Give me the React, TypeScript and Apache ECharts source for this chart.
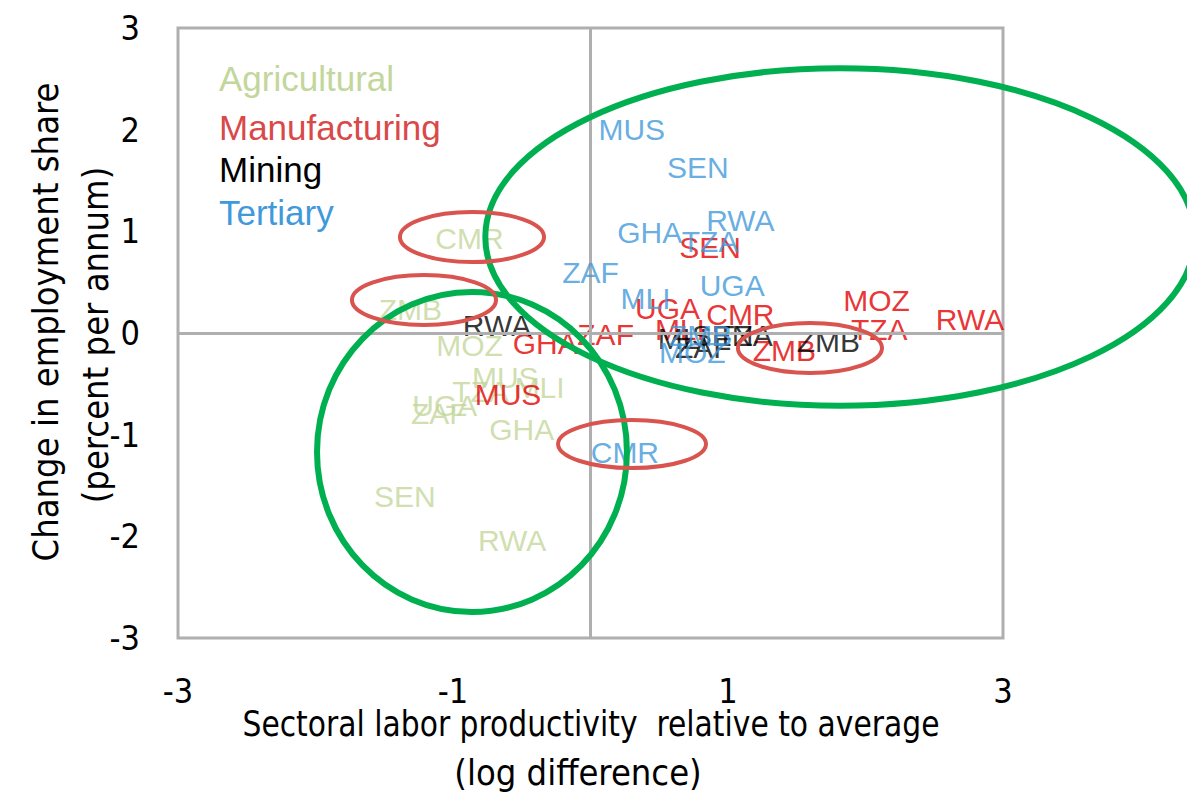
import React, { useEffect, useRef } from "react";
import * as echarts from "echarts";

// Agricultural sector: [x, y, country]
const agricultural: [number, number, string][] = [
  [-0.88, 0.93, "CMR"],
  [-1.31, 0.23, "ZMB"],
  [-0.88, -0.12, "MOZ"],
  [-0.62, -0.44, "MUS"],
  [-0.8, -0.58, "TZA"],
  [-0.37, -0.54, "MLI"],
  [-1.06, -0.71, "UGA"],
  [-1.1, -0.79, "ZAF"],
  [-0.5, -0.95, "GHA"],
  [-1.35, -1.61, "SEN"],
  [-0.57, -2.04, "RWA"],
];

const manufacturing: [number, number, string][] = [
  [-0.6, -0.6, "MUS"],
  [-0.33, -0.1, "GHA"],
  [0.11, -0.01, "ZAF"],
  [0.56, 0.24, "UGA"],
  [0.65, 0.03, "MLI"],
  [1.09, 0.18, "CMR"],
  [0.87, 0.84, "SEN"],
  [1.41, -0.17, "ZMB"],
  [2.08, 0.32, "MOZ"],
  [2.1, 0.03, "TZA"],
  [2.76, 0.13, "RWA"],
];

const mining: [number, number, string][] = [
  [-0.68, 0.07, "RWA"],
  [0.67, -0.05, "MLI"],
  [0.82, -0.14, "ZAF"],
  [0.96, -0.02, "SEN"],
  [1.12, -0.02, "TZA"],
  [1.73, -0.08, "ZMB"],
];

const tertiary: [number, number, string][] = [
  [0.3, 2.0, "MUS"],
  [0.78, 1.63, "SEN"],
  [1.09, 1.11, "RWA"],
  [0.43, 0.99, "GHA"],
  [0.87, 0.9, "TZA"],
  [0.0, 0.6, "ZAF"],
  [1.03, 0.47, "UGA"],
  [0.4, 0.34, "MLI"],
  [0.8, -0.02, "ZMB"],
  [0.74, -0.19, "MOZ"],
  [0.25, -1.18, "CMR"],
];

// Annotation ellipses in data units: [cx, cy, rx, ry]
const greenEllipses: [number, number, number, number][] = [
  [1.815, 0.944, 2.58, 1.66],
  [-0.862, -1.17, 1.127, 1.574],
];
const redEllipses: [number, number, number, number][] = [
  [-0.862, 0.944, 0.524, 0.246],
  [-1.211, 0.325, 0.524, 0.246],
  [0.302, -1.092, 0.538, 0.236],
  [1.596, -0.148, 0.524, 0.246],
];

const legendItems = [
  { name: "Agricultural", color: "#C3D69B" },
  { name: "Manufacturing", color: "#D9494A" },
  { name: "Mining", color: "#000000" },
  { name: "Tertiary", color: "#3F99DB" },
];

const xTicks = [-3, -1, 1, 3];

const narrow = "'Liberation Sans Narrow', 'DejaVu Sans Condensed', 'Arial Narrow', sans-serif";
const sans = "'Liberation Sans', Arial, sans-serif";

export default function App() {
  const ref = useRef<HTMLDivElement>(null);

  useEffect(() => {
    if (!ref.current) return;
    const chart = echarts.init(ref.current, undefined, { renderer: "svg" });

    const mkSeries = (name: string, data: [number, number, string][], color: string, z: number) => ({
      name,
      type: "scatter",
      data,
      symbolSize: 1,
      z,
      itemStyle: { color: "rgba(0,0,0,0)" },
      label: {
        show: true,
        position: "inside",
        formatter: (p: any) => p.data[2],
        color,
        fontFamily: sans,
        fontSize: 30,
      },
    });

    const option: any = {
      animation: false,
      grid: {
        left: 178,
        right: 184,
        top: 28,
        bottom: 161,
        show: true,
        borderColor: "#AFAFAF",
        borderWidth: 3,
        backgroundColor: "transparent",
      },
      xAxis: {
        type: "value",
        min: -3,
        max: 3,
        interval: 2,
        axisLine: { show: false },
        axisTick: { show: false },
        splitLine: { show: false },
        axisLabel: {
          margin: 36,
          fontFamily: narrow,
          fontSize: 34,
          color: "#000",
          customValues: xTicks,
        },
      },
      yAxis: {
        type: "value",
        min: -3,
        max: 3,
        interval: 1,
        axisLine: { show: false },
        axisTick: { show: false },
        splitLine: { show: false },
        axisLabel: {
          margin: 38,
          fontFamily: narrow,
          fontSize: 34,
          color: "#000",
        },
      },
      series: [
        {
          type: "scatter",
          data: [],
          z: 1,
          markLine: {
            silent: true,
            symbol: "none",
            label: { show: false },
            lineStyle: { color: "#AFAFAF", width: 3, type: "solid" },
            data: [{ xAxis: 0 }, { yAxis: 0 }],
          },
        },
        mkSeries("Agricultural", agricultural, "#C3D69B", 2),
        mkSeries("Manufacturing", manufacturing, "#E30000", 3),
        mkSeries("Mining", mining, "#000000", 4),
        mkSeries("Tertiary", tertiary, "#3F99DB", 5),
      ],
    };
    chart.setOption(option);

    const toPx = (cx: number, cy: number, rx: number, ry: number) => {
      const c = chart.convertToPixel({ gridIndex: 0 }, [cx, cy]) as number[];
      const e = chart.convertToPixel({ gridIndex: 0 }, [cx + rx, cy + ry]) as number[];
      return { cx: c[0], cy: c[1], rx: Math.abs(e[0] - c[0]), ry: Math.abs(e[1] - c[1]) };
    };

    const graphics: any[] = [];
    greenEllipses.forEach((el) => {
      graphics.push({
        type: "ellipse",
        shape: toPx(...el),
        z: 100,
        silent: true,
        style: { fill: "none", stroke: "#00B050", lineWidth: 6 },
      });
    });
    redEllipses.forEach((el) => {
      graphics.push({
        type: "ellipse",
        shape: toPx(...el),
        z: 101,
        silent: true,
        style: { fill: "none", stroke: "#D9534F", lineWidth: 4 },
      });
    });
    const legendY = [81, 130, 172, 215];
    legendItems.forEach((it, i) => {
      graphics.push({
        type: "text",
        left: 219,
        top: legendY[i] - 20,
        z: 110,
        style: {
          text: it.name,
          fill: it.color,
          font: `35px ${sans}`,
        },
      });
    });
    graphics.push({
      type: "text",
      x: 591,
      y: 724,
      scaleX: 0.92,
      z: 110,
      style: {
        text: "Sectoral labor productivity  relative to average",
        fill: "#000",
        font: `36px ${narrow}`,
        align: "center",
        verticalAlign: "middle",
      },
    });
    graphics.push({
      type: "text",
      x: 578,
      y: 772,
      z: 110,
      style: {
        text: "(log difference)",
        fill: "#000",
        font: `36px ${narrow}`,
        align: "center",
        verticalAlign: "middle",
      },
    });
    graphics.push({
      type: "text",
      x: 45,
      y: 322,
      rotation: Math.PI / 2,
      z: 110,
      style: {
        text: "Change in employment share",
        fill: "#000",
        font: `36px ${narrow}`,
        align: "center",
        verticalAlign: "middle",
      },
    });
    graphics.push({
      type: "text",
      x: 95,
      y: 335,
      rotation: Math.PI / 2,
      z: 110,
      style: {
        text: "(percent per annum)",
        fill: "#000",
        font: `36px ${narrow}`,
        align: "center",
        verticalAlign: "middle",
      },
    });
    chart.setOption({ graphic: graphics });

    return () => chart.dispose();
  }, []);

  return (
    <div
      ref={ref}
      style={{ position: "fixed", left: 0, top: 0, width: 1187, height: 799, background: "#fff" }}
    />
  );
}
